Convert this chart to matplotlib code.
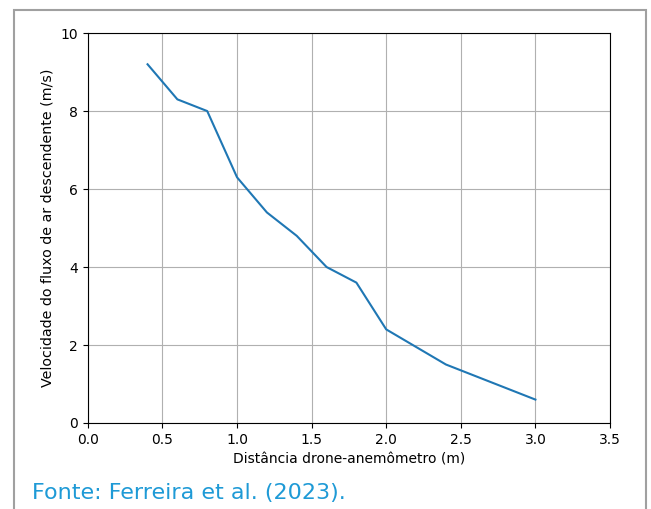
import matplotlib.pyplot as plt
from matplotlib.patches import Rectangle

distancia = [0.4, 0.6, 0.8, 1.0, 1.2, 1.4, 1.6, 1.8, 2.0, 2.2, 2.4, 3.0]
velocidade = [9.2, 8.3, 8.0, 6.3, 5.4, 4.8, 4.0, 3.6, 2.4, 1.95, 1.5, 0.6]

fig = plt.figure(figsize=(6.51, 5.09), dpi=100)
ax = fig.add_axes([0.135, 0.169, 0.802, 0.766])

ax.plot(distancia, velocidade, color='#1f77b4', linewidth=1.5)
ax.set_xlim(0, 3.5)
ax.set_ylim(0, 10)
ax.set_xticks([0.0, 0.5, 1.0, 1.5, 2.0, 2.5, 3.0, 3.5])
ax.set_yticks([0, 2, 4, 6, 8, 10])
ax.grid(True)
ax.set_xlabel("Distância drone-anemômetro (m)")
ax.set_ylabel("Velocidade do fluxo de ar descendente (m/s)", fontsize=10.3)

# moldura cinza em volta da figura
fig.patches.append(Rectangle((14 / 651, -0.05), 632 / 651, 1.05 - 10 / 509,
                             transform=fig.transFigure, fill=False,
                             edgecolor='#a0a0a0', linewidth=1.5))

fig.text(32 / 651, 1 - 499 / 509, "Fonte: Ferreira et al. (2023).",
         color='#1e9ad6', fontsize=16, family='DejaVu Sans',
         va='baseline')

plt.savefig("out.png", dpi=100)
